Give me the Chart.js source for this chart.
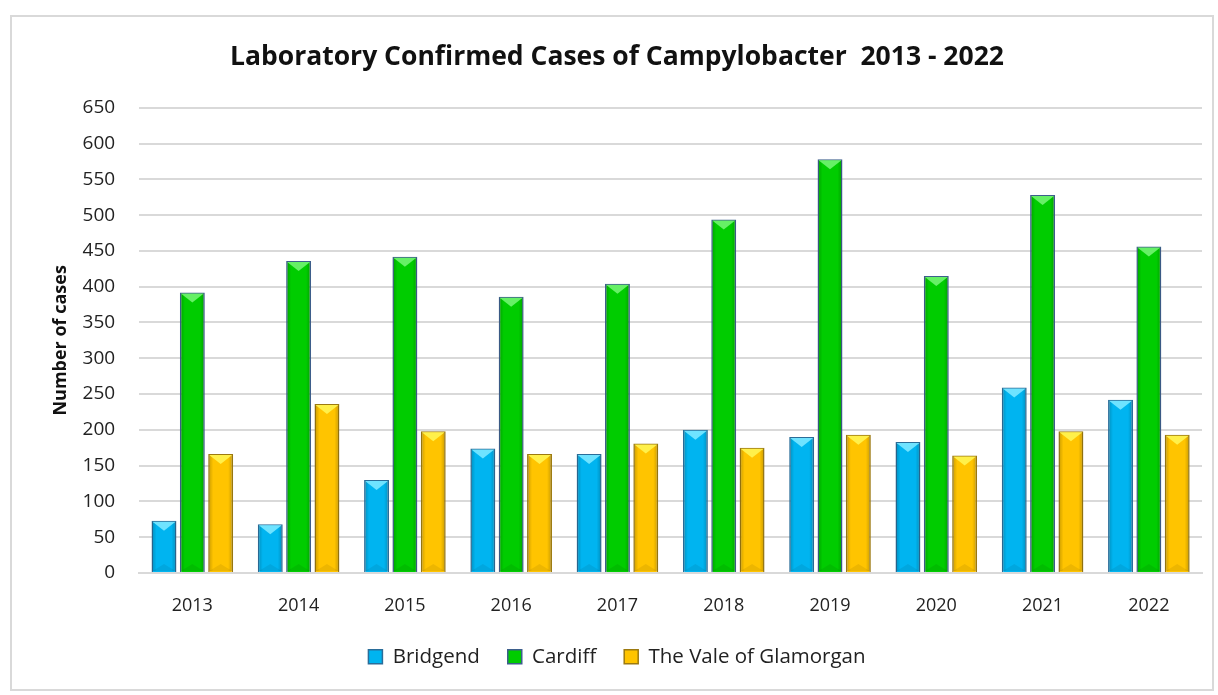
<!DOCTYPE html>
<html>
<head>
<meta charset="utf-8">
<title>Campylobacter cases</title>
<script src="https://cdn.jsdelivr.net/npm/chart.js@4.4.1/dist/chart.umd.min.js"></script>
<style>
  html, body { margin: 0; padding: 0; background: #fff; }
  #frame {
    position: absolute; left: 10px; top: 15px;
    width: 1204px; height: 676px;
    border: 2px solid #d9d9d9; box-sizing: border-box;
  }
  #chart { display: block; }
</style>
</head>
<body>
<div id="frame"><canvas id="chart" width="1200" height="672"></canvas></div>
<script>
// data
const years = ['2013', '2014', '2015', '2016', '2017', '2018', '2019', '2020', '2021', '2022'];
const bridgend = [73, 68, 130, 174, 166, 200, 190, 183, 259, 242];
const cardiff = [392, 436, 442, 386, 404, 494, 578, 415, 528, 456];
const vale = [166, 236, 198, 166, 181, 175, 193, 164, 198, 193];
const yTicks = [0, 50, 100, 150, 200, 250, 300, 350, 400, 450, 500, 550, 600, 650];

const font = "'Open Sans', 'Noto Sans', sans-serif";

// bevel look of the office-style bars
const bevelPlugin = {
  id: 'bevel',
  afterDatasetsDraw(chart) {
    const c = chart.ctx;
    chart.data.datasets.forEach(function(ds, i) {
      const meta = chart.getDatasetMeta(i);
      meta.data.forEach(function(bar) {
        const w = bar.width, l = bar.x - w / 2, r = bar.x + w / 2;
        const top = bar.y, bot = bar.base;
        c.save();
        const g = c.createLinearGradient(l, 0, r, 0);
        g.addColorStop(0, 'rgba(0,0,0,0.22)');
        g.addColorStop(0.2, 'rgba(0,0,0,0)');
        g.addColorStop(0.8, 'rgba(0,0,0,0)');
        g.addColorStop(1, 'rgba(0,0,0,0.22)');
        c.fillStyle = g;
        c.fillRect(l + 1, top + 1, w - 2, bot - top - 2);
        // top highlight
        c.beginPath();
        c.moveTo(l + 1, top + 1);
        c.lineTo(r - 1, top + 1);
        c.lineTo(bar.x, top + 10);
        c.closePath();
        c.fillStyle = ds.bevelColor;
        c.fill();
        // bottom shade
        c.beginPath();
        c.moveTo(l + 1, bot - 1);
        c.lineTo(r - 1, bot - 1);
        c.lineTo(bar.x, bot - 8);
        c.closePath();
        c.fillStyle = 'rgba(0,0,0,0.07)';
        c.fill();
        c.restore();
      });
    });
  }
};

new Chart(document.getElementById('chart'), {
  type: 'bar',
  data: {
    labels: years,
    datasets: [{
      label: 'Bridgend',
      data: bridgend,
      backgroundColor: '#00b4f0',
      borderColor: '#2a6d99',
      bevelColor: '#6fe3ff',
      borderWidth: 1.5
    }, {
      label: 'Cardiff',
      data: cardiff,
      backgroundColor: '#00cc00',
      borderColor: '#3d5f8c',
      bevelColor: '#66f066',
      borderWidth: 1.5
    }, {
      label: 'The Vale of Glamorgan',
      data: vale,
      backgroundColor: '#ffc400',
      borderColor: '#9c7a10',
      bevelColor: '#fff04a',
      borderWidth: 1.5
    }]
  },
  options: {
    responsive: false,
    animation: false,
    categoryPercentage: 0.8,
    barPercentage: 0.88,
    layout: { padding: { left: 20, right: 10, top: 10, bottom: 12 } },
    scales: {
      x: {
        grid: { display: false },
        border: { color: '#d9d9d9', width: 2 },
        ticks: { color: '#222', font: { family: font, size: 18 }, padding: 14 },
        // the wider legend spacing below would otherwise push the plot up
        afterFit: function(axis) { axis.height -= 12; }
      },
      y: {
        min: 0,
        max: 650,
        afterBuildTicks: function(axis) {
          axis.ticks = yTicks.map(function(v) { return { value: v }; });
        },
        grid: { color: '#d9d9d9', lineWidth: 2, tickLength: 14, tickColor: '#fff' },
        border: { display: false },
        ticks: { color: '#222', font: { family: font, size: 19 }, padding: 10 },
        title: {
          display: true,
          text: 'Number of cases',
          color: '#111',
          font: { family: font, size: 18, weight: 'bold' },
          padding: { top: 18, bottom: 1 }
        }
      }
    },
    plugins: {
      title: {
        display: true,
        text: 'Laboratory Confirmed Cases of Campylobacter  2013 - 2022',
        color: '#111',
        font: { family: font, size: 26.5, weight: 'bold' },
        padding: { top: 15, bottom: 34 }
      },
      legend: {
        position: 'bottom',
        labels: {
          color: '#222',
          font: { family: font, size: 20.5 },
          boxWidth: 14,
          boxHeight: 14,
          padding: 28
        }
      },
      tooltip: { enabled: false }
    }
  },
  plugins: [bevelPlugin]
});
</script>
</body>
</html>
